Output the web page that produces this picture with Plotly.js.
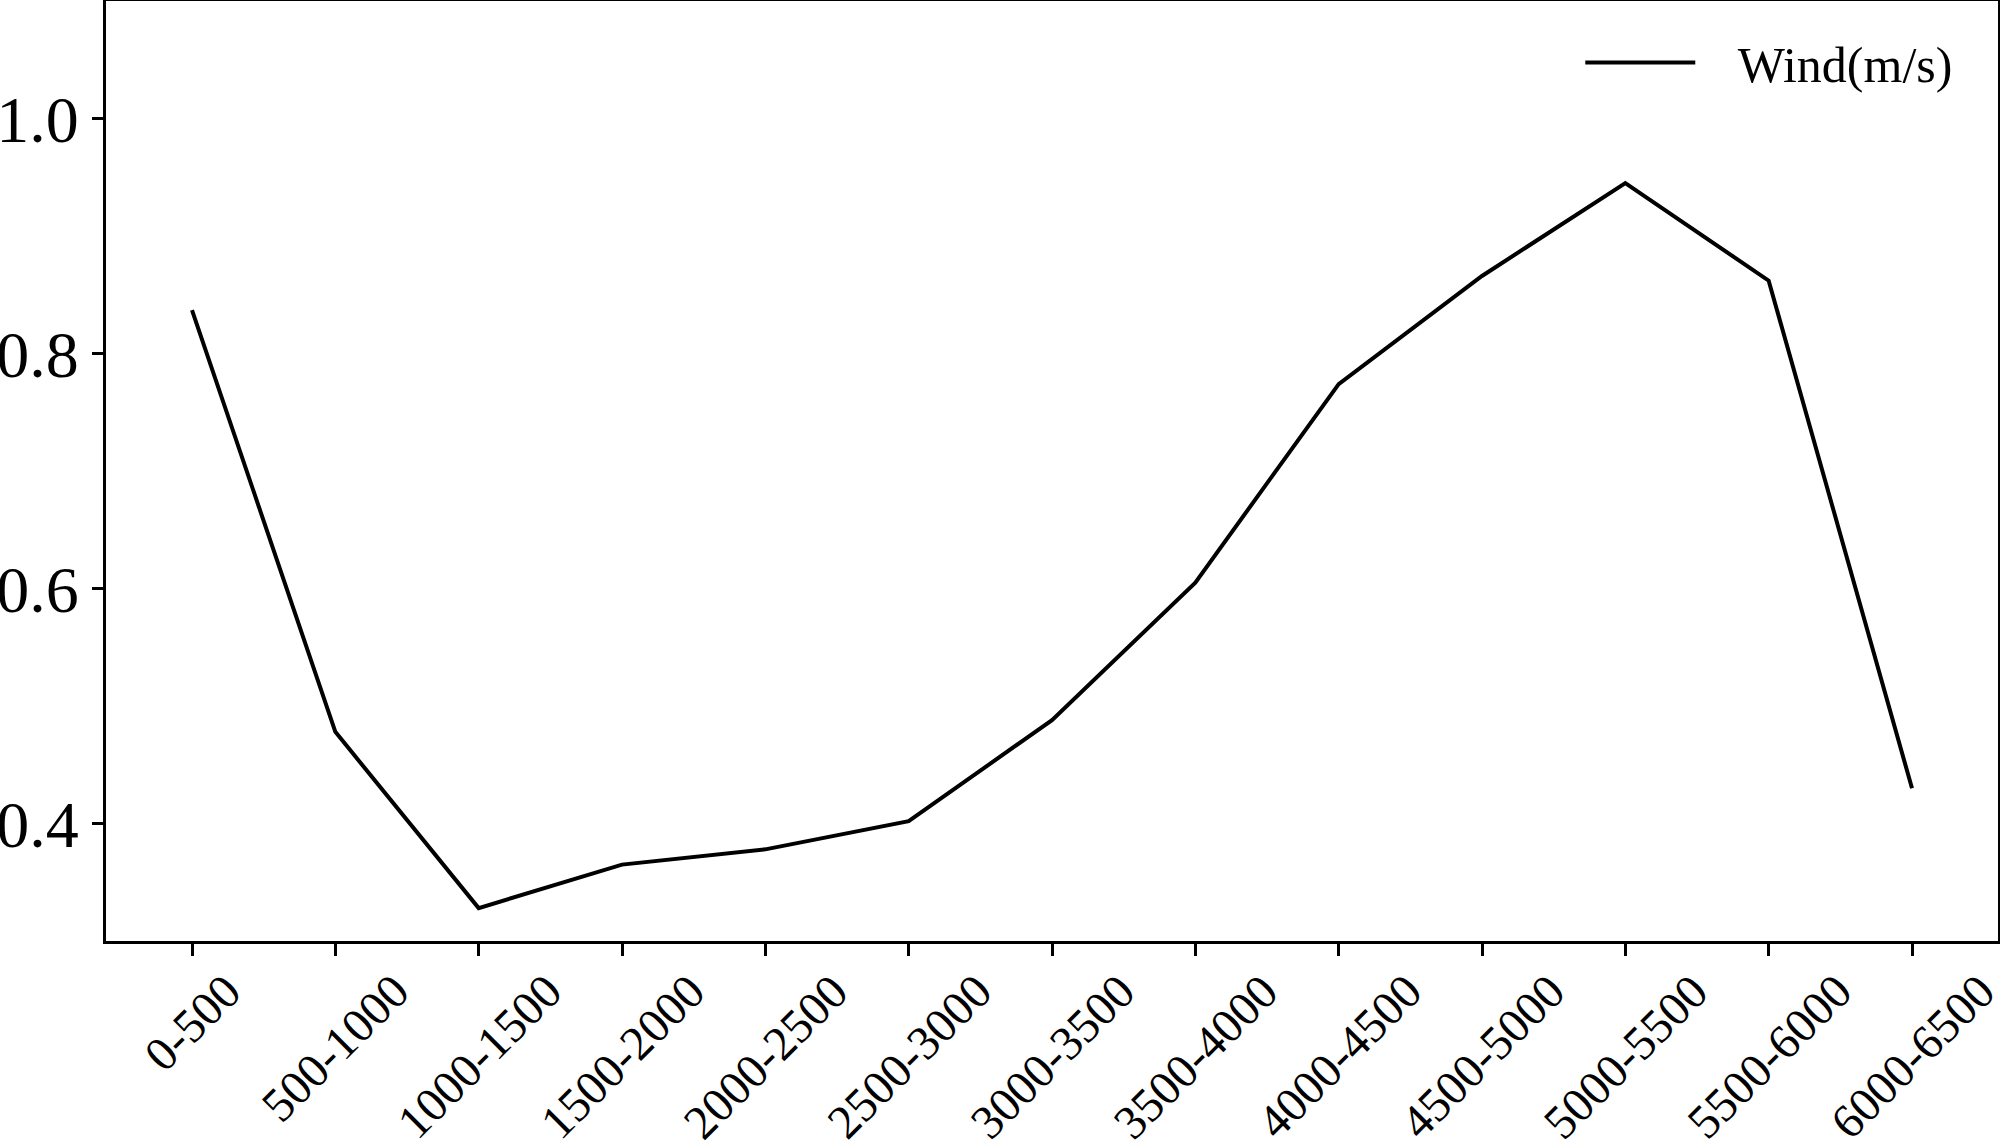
<!DOCTYPE html>
<html>
<head>
<meta charset="utf-8">
<script src="https://cdn.plot.ly/plotly-3.0.1.min.js"></script>
<style>
  html, body { margin: 0; padding: 0; background: #fff; }
  #chart { width: 2000px; height: 1147px; }
</style>
</head>
<body>
<div id="chart"></div>
<script>
// altitude bins (m)
const bins = ['0-500', '500-1000', '1000-1500', '1500-2000', '2000-2500', '2500-3000',
  '3000-3500', '3500-4000', '4000-4500', '4500-5000', '5000-5500', '5500-6000', '6000-6500']
const wind = [0.837, 0.478, 0.328, 0.365, 0.378, 0.402, 0.488, 0.605, 0.774, 0.866, 0.945, 0.862, 0.430]
const yTicks = [0.4, 0.6, 0.8, 1.0]

const font = 'Liberation Serif, Times New Roman, serif'
const Plotly = window.Plotly

const xIdx = bins.map((b, i) => i)

const trace = {
  x: xIdx,
  y: wind,
  mode: 'lines',
  type: 'scatter',
  // nbsp's give the gap between the legend line and its label
  name: '\u00a0\u00a0\u00a0Wind(m/s)',
  line: { color: '#000', width: 4 },
}

// matplotlib-style rotated tick labels, centred under each tick
const labels = bins.map((b, i) => ({
  x: i,
  xref: 'x',
  y: 0,
  yref: 'paper',
  yshift: -20,
  text: b,
  textangle: -45,
  xanchor: 'center',
  yanchor: 'top',
  showarrow: false,
  font: { family: font, size: 48, color: '#000' },
}))

const layout = {
  width: 2000,
  height: 1147,
  margin: { l: 106, r: 2, t: 1, b: 206 },
  paper_bgcolor: '#fff',
  plot_bgcolor: '#fff',
  showlegend: true,
  legend: {
    x: 0.979, xanchor: 'right',
    y: 0.976, yanchor: 'top',
    bgcolor: 'rgba(0,0,0,0)',
    itemwidth: 110,
    font: { family: font, size: 50, color: '#000' },
  },
  xaxis: {
    range: [-0.6, 12.6],
    tickvals: xIdx,
    showticklabels: false,
    ticks: 'outside',
    ticklen: 12,
    tickwidth: 3,
    tickcolor: '#000',
    showline: true,
    mirror: true,
    linecolor: '#000',
    linewidth: 3,
    showgrid: false,
    zeroline: false,
  },
  yaxis: {
    range: [0.3, 1.1],
    tickvals: yTicks,
    ticktext: yTicks.map(v => v.toFixed(1)),
    ticks: 'outside',
    ticklen: 11,
    tickwidth: 3,
    tickcolor: '#000',
    tickfont: { family: font, size: 66, color: '#000' },
    showline: true,
    mirror: true,
    linecolor: '#000',
    linewidth: 3,
    showgrid: false,
    zeroline: false,
  },
  annotations: labels,
}

Plotly.newPlot('chart', [trace], layout, { displayModeBar: false, staticPlot: true })
</script>
</body>
</html>
